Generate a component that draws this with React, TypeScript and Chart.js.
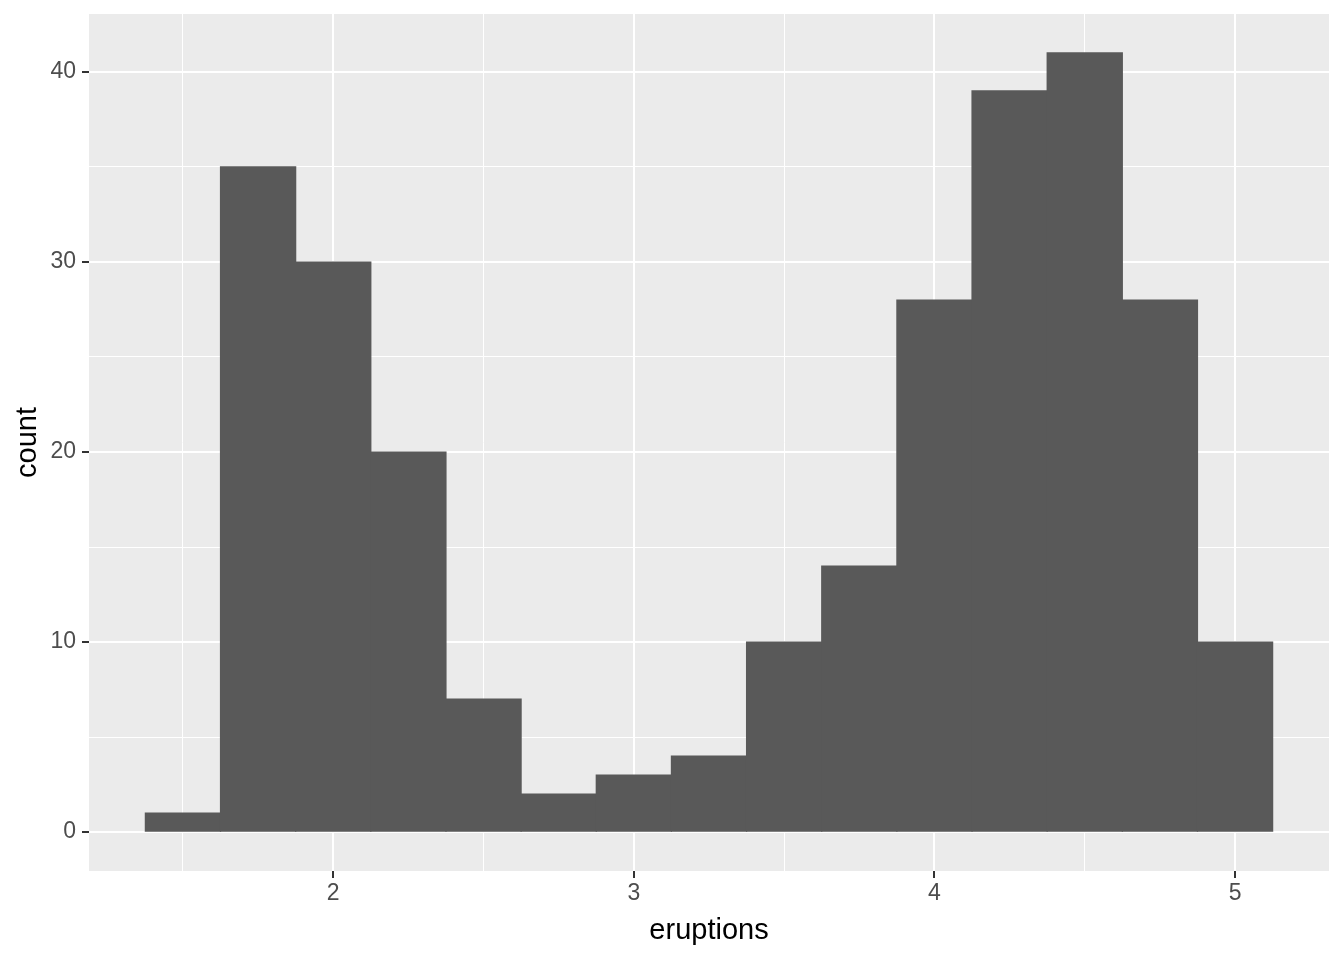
import React, { useRef, useEffect } from 'react'
import Chart from 'chart.js/auto'

// faithful$eruptions histogram, binwidth 0.25
const binCenters = [1.5, 1.75, 2, 2.25, 2.5, 2.75, 3, 3.25, 3.5, 3.75, 4, 4.25, 4.5, 4.75, 5]
const counts = [1, 35, 30, 20, 7, 2, 3, 4, 10, 14, 28, 39, 41, 28, 10]
const xTicks = [1.5, 2, 2.5, 3, 3.5, 4, 4.5, 5]
const yTicks = [0, 5, 10, 15, 20, 25, 30, 35, 40]

const FONT = "'Liberation Sans', Arial, sans-serif"

const panelBg = {
  id: 'panelBg',
  beforeDraw(chart: any) {
    const { ctx, chartArea, width, height } = chart
    ctx.save()
    ctx.fillStyle = '#ffffff'
    ctx.fillRect(0, 0, width, height)
    ctx.fillStyle = '#ebebeb'
    ctx.fillRect(chartArea.left, chartArea.top, chartArea.right - chartArea.left, chartArea.bottom - chartArea.top)
    ctx.restore()
  },
}

const App: React.FC = () => {
  const canvasRef = useRef<HTMLCanvasElement>(null)

  useEffect(() => {
    if (!canvasRef.current) return
    const ctx = canvasRef.current.getContext('2d')
    if (!ctx) return

    let chart = Chart.getChart(canvasRef.current)
    if (chart) chart.destroy()

    const isMajorX = (c: any) => c.tick != null && Number.isInteger(c.tick.value)
    const isMajorY = (c: any) => c.tick != null && c.tick.value % 10 === 0

    chart = new Chart(ctx, {
      type: 'bar',
      data: {
        datasets: [
          {
            data: binCenters.map((x, i) => ({ x, y: counts[i] })),
            backgroundColor: '#595959',
            borderWidth: 0,
            inflateAmount: 0.6,
            barPercentage: 1,
            categoryPercentage: 1,
          },
        ],
      },
      plugins: [panelBg],
      options: {
        animation: false,
        responsive: false,
        maintainAspectRatio: false,
        layout: { padding: { top: 14, right: 15, left: 0, bottom: 0 } },
        plugins: { legend: { display: false }, tooltip: { enabled: false } },
        scales: {
          x: {
            type: 'linear',
            min: 1.1875,
            max: 5.3125,
            offset: false,
            border: { display: false },
            afterBuildTicks: (scale: any) => {
              scale.ticks = xTicks.map((value) => ({ value }))
            },
            afterFit: (scale: any) => {
              scale.height = 89
              scale.paddingLeft = 0
              scale.paddingRight = 0
            },
            grid: {
              offset: false,
              color: '#ffffff',
              lineWidth: (c: any) => (isMajorX(c) ? 2 : 1),
              tickColor: (c: any) => (isMajorX(c) ? '#333333' : 'rgba(0,0,0,0)'),
              tickLength: 7,
              tickWidth: 2,
            },
            ticks: {
              autoSkip: false,
              maxRotation: 0,
              padding: 2,
              color: '#4d4d4d',
              font: { family: FONT, size: 23 },
              callback: (v: any) => (Number.isInteger(Number(v)) ? String(v) : ''),
            },
            title: {
              display: true,
              text: 'eruptions',
              color: '#000000',
              font: { family: FONT, size: 29 },
              padding: { top: 0, bottom: 12 },
            },
          },
          y: {
            type: 'linear',
            min: -2.05,
            max: 43.05,
            border: { display: false },
            afterBuildTicks: (scale: any) => {
              scale.ticks = yTicks.map((value) => ({ value }))
            },
            afterFit: (scale: any) => {
              scale.width = 89
              scale.paddingTop = 0
              scale.paddingBottom = 0
            },
            grid: {
              color: '#ffffff',
              lineWidth: (c: any) => (isMajorY(c) ? 2 : 1),
              tickColor: (c: any) => (isMajorY(c) ? '#333333' : 'rgba(0,0,0,0)'),
              tickLength: 7,
              tickWidth: 2,
            },
            ticks: {
              autoSkip: false,
              padding: 6,
              color: '#4d4d4d',
              font: { family: FONT, size: 23 },
              callback: (v: any) => (Number(v) % 10 === 0 ? String(v) : ''),
            },
            title: {
              display: true,
              text: 'count',
              color: '#000000',
              font: { family: FONT, size: 29 },
              padding: { top: 11, bottom: 0 },
            },
          },
        },
      },
    })

    return () => {
      if (chart) chart.destroy()
    }
  }, [])

  return (
    <div style={{ position: 'absolute', left: 0, top: 0, width: 1344, height: 960, background: '#ffffff' }}>
      <canvas ref={canvasRef} width={1344} height={960} style={{ width: '1344px', height: '960px', display: 'block' }} />
    </div>
  )
}

export default App
